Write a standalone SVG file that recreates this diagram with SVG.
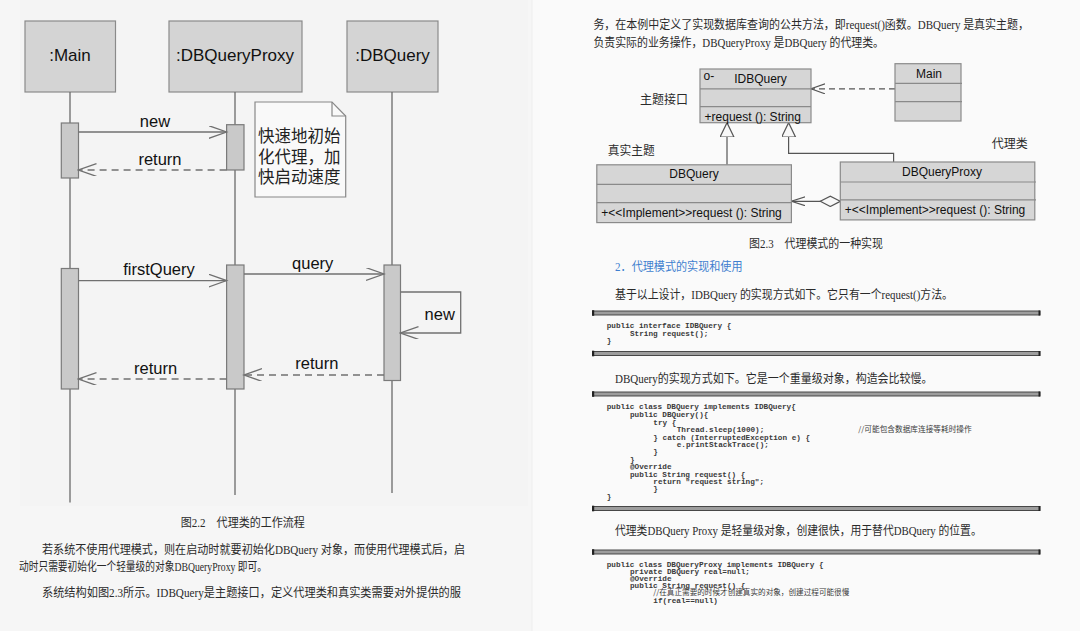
<svg xmlns="http://www.w3.org/2000/svg" width="1080" height="631" viewBox="0 0 1080 631">
<style>
.seqbox{fill:#d4d4d4;stroke:#8a8a8a;stroke-width:1.2}
.act{fill:#c9c9c9;stroke:#7a7a7a;stroke-width:1.2}
.life{stroke:#6a6a6a;stroke-width:1.3;fill:none}
.msg{stroke:#707070;stroke-width:1.3;fill:none}
.dash{stroke-dasharray:7 5}
.lbl{font-family:"Liberation Sans",Arial,sans-serif;fill:#111}
.seqt{font-size:17px;text-anchor:middle}
.ml{font-size:16.5px;text-anchor:middle}
.note{fill:#f9f9f9;stroke:#888;stroke-width:1.2}
.cjk{font-family:"Noto Sans CJK SC",sans-serif;fill:#222}
.para{font-family:"Liberation Serif","Noto Sans CJK SC",serif;font-size:12px;fill:#2a2a2a}
.cls{fill:#d6d6d6;stroke:#8a8a8a;stroke-width:1.2}
.div{stroke:#8a8a8a;stroke-width:1.2}
.ut{font-family:"Liberation Sans",Arial,sans-serif;font-size:12px;fill:#111}
.uml{stroke:#555;stroke-width:1.2;fill:none}
.code{font-family:"Liberation Mono","Courier New",monospace;font-size:7.7px;font-weight:bold;fill:#3a3a3a;white-space:pre}
.ccjk{font-family:"Noto Sans CJK SC",sans-serif;font-size:7.5px;fill:#3a3a3a}
</style>
<defs>
<marker id="openArr" markerUnits="userSpaceOnUse" markerWidth="20" markerHeight="14" refX="18" refY="6.4" orient="auto" viewBox="0 0 20 14">
<path d="M0,0 L18,6.4 L0,12.8" fill="none" stroke="#707070" stroke-width="1.3"/>
</marker>
<marker id="umlOpen" markerUnits="userSpaceOnUse" markerWidth="16" markerHeight="12" refX="14" refY="5" orient="auto" viewBox="0 0 16 12">
<path d="M0,0 L14,5 L0,10" fill="none" stroke="#555" stroke-width="1.2"/>
</marker>
<marker id="umlOpen2" markerUnits="userSpaceOnUse" markerWidth="16" markerHeight="12" refX="14" refY="4.5" orient="auto" viewBox="0 0 16 12">
<path d="M0,0 L14,4.5 L0,9" fill="none" stroke="#555" stroke-width="1.2"/>
</marker>
<marker id="tri" markerUnits="userSpaceOnUse" markerWidth="16" markerHeight="16" refX="14.5" refY="7" orient="auto" viewBox="0 0 16 16">
<path d="M0,0 L14.5,7 L0,14 Z" fill="#f8f8f8" stroke="#555" stroke-width="1.2"/>
</marker>
<marker id="diamond" markerUnits="userSpaceOnUse" markerWidth="22" markerHeight="12" refX="0" refY="5.2" orient="auto" viewBox="0 0 22 12">
<path d="M0,5.2 L10,0 L20,5.2 L10,10.4 Z" fill="#f8f8f8" stroke="#555" stroke-width="1.2"/>
</marker>
<g id="rule">
<rect x="0" y="-2" width="447" height="4" fill="#9d9d9d" stroke="#3a3a3a" stroke-width="0.9"/>
<rect x="-1" y="-2.8" width="2.2" height="5.6" fill="#222"/>
<rect x="445.5" y="-2.5" width="1.8" height="5" fill="#222"/>
</g>
</defs>

<!-- pages -->
<rect x="0" y="0" width="1080" height="631" fill="#f6f6f6"/>
<rect x="532" y="0" width="548" height="631" fill="#fafafa"/>
<line x1="532" y1="0" x2="532" y2="631" stroke="#eeeeee" stroke-width="1"/>
<rect x="20" y="0" width="508" height="506" fill="#f4f4f4"/>

<!-- sequence diagram lifeline heads -->
<g id="main-head">
<rect class="seqbox" x="25" y="21" width="90.5" height="71"/>
<text class="lbl seqt" x="70" y="61">:Main</text>
</g>
<g id="proxy-head">
<rect class="seqbox" x="169" y="21" width="133" height="71"/>
<text class="lbl seqt" x="235" y="61">:DBQueryProxy</text>
</g>
<g id="dbquery-head">
<rect class="seqbox" x="347" y="21" width="91" height="71"/>
<text class="lbl seqt" x="392.5" y="61">:DBQuery</text>
</g>

<g id="lifelines">
<line class="life" x1="70" y1="92" x2="70" y2="502.5"/>
<line class="life" x1="235" y1="92" x2="235" y2="495"/>
<line class="life" x1="392" y1="92" x2="392" y2="493"/>
</g>

<g id="activations">
<rect class="act" x="61.3" y="123" width="17.2" height="55"/>
<rect class="act" x="226.6" y="124.7" width="17.4" height="45.3"/>
<rect class="act" x="61.3" y="268.5" width="17.2" height="120.5"/>
<rect class="act" x="226.6" y="265" width="17.4" height="124"/>
<rect class="act" x="384" y="265" width="16.5" height="115.5"/>
</g>

<g id="note">
<path class="note" d="M255,102 H332 L345.7,116 V197 H255 Z"/>
<path d="M332,102 V116 H345.7" fill="none" stroke="#888" stroke-width="1.2"/>
<text class="cjk" font-size="16.5" x="258" y="142">快速地初始</text>
<text class="cjk" font-size="16.5" x="258" y="162.5">化代理，加</text>
<text class="cjk" font-size="16.5" x="258" y="183">快启动速度</text>
</g>

<g id="connectors">
<!-- sequence messages -->
<line class="msg" x1="78.5" y1="132" x2="226.6" y2="132" marker-end="url(#openArr)"/>
<line class="msg dash" x1="226.6" y1="170" x2="78.5" y2="170" marker-end="url(#openArr)"/>
<line class="msg" x1="78.5" y1="280.6" x2="226.6" y2="280.6" marker-end="url(#openArr)"/>
<line class="msg" x1="244" y1="274" x2="384" y2="274" marker-end="url(#openArr)"/>
<path class="msg" d="M400.5,292 H460.7 V333 H400.5" marker-end="url(#openArr)"/>
<line class="msg dash" x1="384" y1="375" x2="244" y2="375" marker-end="url(#openArr)"/>
<line class="msg dash" x1="226.6" y1="379" x2="78.5" y2="379" marker-end="url(#openArr)"/>
<!-- UML relations -->
<line class="uml" x1="895" y1="88.8" x2="811" y2="88.8" stroke-dasharray="6 4" marker-end="url(#umlOpen)"/>
<path class="uml" d="M727,164.8 V122.7" marker-end="url(#tri)"/>
<path class="uml" d="M893.6,162 V153.4 H788.6 V122.7" marker-end="url(#tri)"/>
<line class="uml" x1="840.3" y1="201.3" x2="791.4" y2="201.3" marker-start="url(#diamond)" marker-end="url(#umlOpen2)"/>
</g>

<g id="seq-labels">
<text class="lbl ml" x="155" y="126.5">new</text>
<text class="lbl ml" x="160" y="165">return</text>
<text class="lbl ml" x="159" y="274.5">firstQuery</text>
<text class="lbl ml" x="312.7" y="268.5">query</text>
<text class="lbl ml" x="439.7" y="319.5">new</text>
<text class="lbl ml" x="316.8" y="369">return</text>
<text class="lbl ml" x="155.6" y="373.5">return</text>
</g>

<!-- left page text -->
<g id="left-text">
<text class="para" x="180.8" y="527" textLength="124" lengthAdjust="spacingAndGlyphs">图2.2　代理类的工作流程</text>
<text class="para" x="42" y="554" textLength="423" lengthAdjust="spacingAndGlyphs">若系统不使用代理模式，则在启动时就要初始化DBQuery 对象，而使用代理模式后，启</text>
<text class="para" x="19" y="571" textLength="248" lengthAdjust="spacingAndGlyphs">动时只需要初始化一个轻量级的对象DBQueryProxy 即可。</text>
<text class="para" x="42" y="597" textLength="419" lengthAdjust="spacingAndGlyphs">系统结构如图2.3所示。IDBQuery是主题接口，定义代理类和真实类需要对外提供的服</text>
</g>

<!-- right page text -->
<g id="right-text">
<text class="para" x="593.4" y="29" textLength="435.6" lengthAdjust="spacingAndGlyphs">务，在本例中定义了实现数据库查询的公共方法，即request()函数。DBQuery 是真实主题，</text>
<text class="para" x="593.4" y="46.5" textLength="290.6" lengthAdjust="spacingAndGlyphs">负责实际的业务操作，DBQueryProxy 是DBQuery 的代理类。</text>
<text class="para" x="640" y="104" textLength="48" lengthAdjust="spacingAndGlyphs">主题接口</text>
<text class="para" x="607.8" y="155" textLength="47" lengthAdjust="spacingAndGlyphs">真实主题</text>
<text class="para" x="991.8" y="148" textLength="36" lengthAdjust="spacingAndGlyphs">代理类</text>
<text class="para" x="749" y="248" textLength="134" lengthAdjust="spacingAndGlyphs">图2.3　代理模式的一种实现</text>
<text class="para" x="615" y="270.5" style="fill:#3f7fcf" textLength="127.5" lengthAdjust="spacingAndGlyphs">2．代理模式的实现和使用</text>
<text class="para" x="615" y="299" textLength="338" lengthAdjust="spacingAndGlyphs">基于以上设计，IDBQuery 的实现方式如下。它只有一个request()方法。</text>
<text class="para" x="615" y="382.5" textLength="317.6" lengthAdjust="spacingAndGlyphs">DBQuery的实现方式如下。它是一个重量级对象，构造会比较慢。</text>
<text class="para" x="615" y="535" textLength="366.7" lengthAdjust="spacingAndGlyphs">代理类DBQuery Proxy 是轻量级对象，创建很快，用于替代DBQuery 的位置。</text>
</g>

<!-- UML classes -->
<g id="cls-idbquery">
<rect class="cls" x="700" y="69" width="111" height="53.7"/>
<line class="div" x1="700" y1="88.8" x2="811" y2="88.8"/>
<line class="div" x1="700" y1="106.7" x2="811" y2="106.7"/>
<text class="ut" x="703.5" y="80" font-size="9">o-</text>
<text class="ut" x="760.5" y="83.3" text-anchor="middle">IDBQuery</text>
<text class="ut" x="704.6" y="121">+request (): String</text>
</g>
<g id="cls-main">
<rect class="cls" x="895" y="63.7" width="66" height="57.3"/>
<line class="div" x1="895" y1="83.3" x2="962" y2="83.3"/>
<line class="div" x1="895" y1="101.6" x2="962" y2="101.6"/>
<text class="ut" x="929" y="77.5" text-anchor="middle">Main</text>
</g>
<g id="cls-dbquery">
<rect class="cls" x="596.8" y="164.8" width="194.6" height="57.8"/>
<line class="div" x1="596.8" y1="184.4" x2="792" y2="184.4"/>
<line class="div" x1="596.8" y1="202.6" x2="792" y2="202.6"/>
<text class="ut" x="694" y="178.3" text-anchor="middle">DBQuery</text>
<text class="ut" x="601.3" y="217.3">+&lt;&lt;Implement&gt;&gt;request (): String</text>
</g>
<g id="cls-proxy">
<rect class="cls" x="840.3" y="162" width="194.5" height="57.9"/>
<line class="div" x1="840.3" y1="182" x2="1036" y2="182"/>
<line class="div" x1="840.3" y1="199.9" x2="1036" y2="199.9"/>
<text class="ut" x="942" y="175.8" text-anchor="middle">DBQueryProxy</text>
<text class="ut" x="844.8" y="214.3">+&lt;&lt;Implement&gt;&gt;request (): String</text>
</g>

<!-- code listings -->
<g id="code-idbquery">
<use href="#rule" x="593" y="313"/>
<text class="code" x="606.7" y="327.7">public interface IDBQuery {</text>
<text class="code" x="630" y="335.5">String request();</text>
<text class="code" x="606.7" y="342.7">}</text>
<use href="#rule" x="593" y="353.5"/>
</g>
<g id="code-dbquery">
<use href="#rule" x="593" y="394"/>
<text class="code" x="606.7" y="409.4">public class DBQuery implements IDBQuery{</text>
<text class="code" x="630" y="416.7">public DBQuery(){</text>
<text class="code" x="653.3" y="425">try {</text>
<text class="code" x="676.7" y="432.4">Thread.sleep(1000);</text>
<text class="ccjk" x="858.3" y="432.4" textLength="113.4" lengthAdjust="spacingAndGlyphs">//可能包含数据库连接等耗时操作</text>
<text class="code" x="653.3" y="440">} catch (InterruptedException e) {</text>
<text class="code" x="676.7" y="447.4">e.printStackTrace();</text>
<text class="code" x="653.3" y="454.4">}</text>
<text class="code" x="630" y="461.7">}</text>
<text class="code" x="630" y="469.4">@Override</text>
<text class="code" x="630" y="476.7">public String request() {</text>
<text class="code" x="653.3" y="483.7">return "request string";</text>
<text class="code" x="653.3" y="491.4">}</text>
<text class="code" x="606.7" y="499.4">}</text>
<use href="#rule" x="593" y="508.5"/>
</g>
<g id="code-proxy">
<use href="#rule" x="593" y="552"/>
<text class="code" x="606.7" y="566.7">public class DBQueryProxy implements IDBQuery {</text>
<text class="code" x="630" y="573.7">private DBQuery real=null;</text>
<text class="code" x="630" y="581">@Override</text>
<text class="code" x="630" y="588.3">public String request() {</text>
<text class="ccjk" x="653.3" y="595.3" textLength="196" lengthAdjust="spacingAndGlyphs">//在真正需要的时候才创建真实的对象，创建过程可能很慢</text>
<text class="code" x="653.3" y="602.7">if(real==null)</text>
</g>
</svg>
